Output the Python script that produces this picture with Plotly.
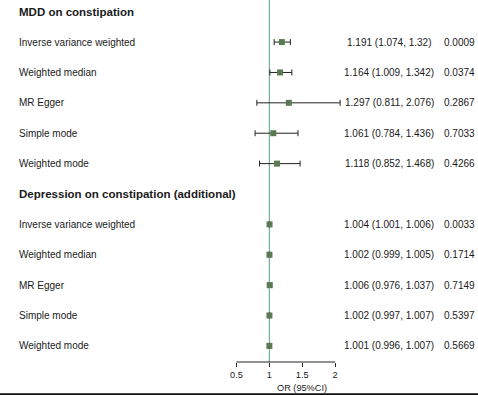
import plotly.graph_objects as go

# ---- data ----
group_titles = ["MDD on constipation", "Depression on constipation (additional)"]
methods = ["Inverse variance weighted", "Weighted median", "MR Egger", "Simple mode", "Weighted mode"]

or_mdd = [1.191, 1.164, 1.297, 1.061, 1.118]
lo_mdd = [1.074, 1.009, 0.811, 0.784, 0.852]
hi_mdd = [1.32, 1.342, 2.076, 1.436, 1.468]
p_mdd = ["0.0009", "0.0374", "0.2867", "0.7033", "0.4266"]

or_dep = [1.004, 1.002, 1.006, 1.002, 1.001]
lo_dep = [1.001, 0.999, 0.976, 0.997, 0.996]
hi_dep = [1.006, 1.005, 1.037, 1.007, 1.007]
p_dep = ["0.0033", "0.1714", "0.7149", "0.5397", "0.5669"]

est_mdd_txt = ["1.191 (1.074, 1.32)", "1.164 (1.009, 1.342)", "1.297 (0.811, 2.076)",
               "1.061 (0.784, 1.436)", "1.118 (0.852, 1.468)"]
est_dep_txt = ["1.004 (1.001, 1.006)", "1.002 (0.999, 1.005)", "1.006 (0.976, 1.037)",
               "1.002 (0.997, 1.007)", "1.001 (0.996, 1.007)"]

x_ticks = [0.5, 1, 1.5, 2]
x_tick_labels = ["0.5", "1", "1.5", "2"]
x_title = "OR (95%CI)"

# ---- layout constants ----
W, H = 478, 395
FONT = "Liberation Sans, Arial, Helvetica, sans-serif"
MARKER_COLOR = "#5a7b52"
REF_COLOR = "#5a9f88"
TEXT_COLOR = "#1a1a1a"

rows_mdd = [1, 2, 3, 4, 5]
rows_dep = [7, 8, 9, 10, 11]

px_per_unit = 65.8
x_one_px = 269.3
x_left = 1 - x_one_px / px_per_unit
x_right = 1 + (W - x_one_px) / px_per_unit

plot_bottom_px = 361.7
plot_h = plot_bottom_px

fig = go.Figure()

def add_group(ors, los, his, rows):
    fig.add_trace(go.Scatter(
        x=ors, y=rows, mode="markers",
        marker=dict(symbol="square", size=6, color=MARKER_COLOR, line=dict(width=0)),
        error_x=dict(type="data", symmetric=False,
                     array=[h - o for h, o in zip(his, ors)],
                     arrayminus=[o - l for o, l in zip(ors, los)],
                     color="#222222", thickness=1, width=3),
        showlegend=False, hoverinfo="skip", cliponaxis=False,
    ))

add_group(or_mdd, lo_mdd, hi_mdd, rows_mdd)
add_group(or_dep, lo_dep, hi_dep, rows_dep)

annotations = []
def txt(x_px, y, text, anchor="left", size=10, bold=False):
    annotations.append(dict(
        x=x_px / W, xref="paper", y=y, yref="y", text=f"<b>{text}</b>" if bold else text,
        showarrow=False, xanchor=anchor, yanchor="middle",
        font=dict(family=FONT, size=size, color=TEXT_COLOR)))

txt(17, 0, group_titles[0], size=11.5, bold=True)
txt(17, 6, group_titles[1], size=11.5, bold=True)
for rows, est_txt, ps in [(rows_mdd, est_mdd_txt, p_mdd), (rows_dep, est_dep_txt, p_dep)]:
    for r, m, e, p in zip(rows, methods, est_txt, ps):
        txt(17, r, m)
        txt(389, r, e, anchor="center")
        txt(459.5, r, p, anchor="center")

annotations.append(dict(
    x=(x_one_px + 0.5 * px_per_unit) / W, xref="paper", y=0, yref="paper",
    yanchor="top", yshift=-19, text=x_title, showarrow=False,
    font=dict(family=FONT, size=9.2, color=TEXT_COLOR)))

shapes = [
    dict(type="line", xref="x", yref="paper", x0=1, x1=1, y0=0, y1=1,
         line=dict(color=REF_COLOR, width=1), layer="below"),
    dict(type="line", xref="x", yref="paper", x0=0.5, x1=2, y0=0, y1=0,
         line=dict(color="#222222", width=1)),
    dict(type="rect", xref="paper", yref="paper", x0=0, x1=1,
         y0=-(393 - plot_bottom_px) / plot_h, y1=-(400 - plot_bottom_px) / plot_h,
         line=dict(width=0), fillcolor="#111111"),
]

fig.update_layout(
    width=W, height=H,
    margin=dict(l=0, r=0, t=0, b=H - plot_bottom_px, pad=0),
    paper_bgcolor="white", plot_bgcolor="white",
    xaxis=dict(range=[x_left, x_right], tickvals=x_ticks, ticktext=x_tick_labels,
               ticks="outside", ticklen=4, tickwidth=1, tickcolor="#222222",
               showgrid=False, zeroline=False, showline=False,
               tickfont=dict(family=FONT, size=9.2, color=TEXT_COLOR), fixedrange=True),
    yaxis=dict(range=[11.53, -0.385], showticklabels=False, showgrid=False,
               zeroline=False, showline=False, ticks="", fixedrange=True),
    annotations=annotations, shapes=shapes, showlegend=False,
)

fig.write_html(
    "out.html",
    config={"displayModeBar": False},
    post_script="document.body.style.margin='0';document.body.style.overflow='hidden';",
)
